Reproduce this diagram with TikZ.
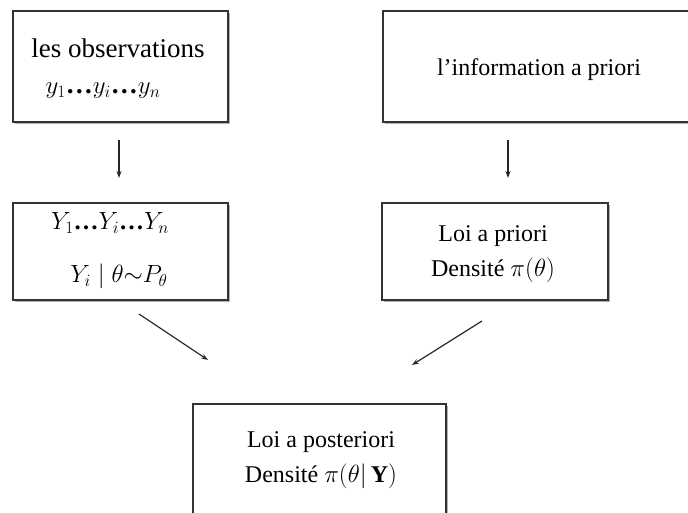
\documentclass[tikz,border=0pt]{standalone}
\usepackage{fontspec}
\setmainfont{Liberation Serif}
\usetikzlibrary{arrows.meta,shadows}
\tikzset{
  box/.style={draw=black!80, line width=1.4pt, fill=white, inner sep=0pt,
    drop shadow={shadow xshift=1.5pt, shadow yshift=-2pt, opacity=0.3, fill=black}},
  txt/.style={align=center, font=\fontsize{24}{35}\selectfont, inner sep=0pt},
  arr/.style={-{Stealth[length=7pt,width=5pt]}, line width=1.2pt, draw=black!85}
}
\newcommand{\bdots}{\textbf{…}}
\begin{document}
\begin{tikzpicture}[x=1pt,y=-1pt]
  \useasboundingbox (0,0) rectangle (688,513);
  \clip (0,0) rectangle (688,513);
  % boxes
  \node[box, minimum width=215pt, minimum height=111pt] (obs) at (120.5,66.5) {};
  \node[txt, font=\fontsize{27}{38}\selectfont] (obstxt) at (118,69) {les observations\\[-2pt]$y_1$\bdots$y_i$\bdots$y_n$\hspace*{30pt}};
  \node[box, minimum width=317pt, minimum height=111pt] (info) at (541.5,66.5) {};
  \node[txt] (infotxt) at (539,70) {l’information a priori};
  \node[box, minimum width=215pt, minimum height=97pt] (vrai) at (120.5,251.5) {};
  \node[txt, font=\fontsize{25}{53}\selectfont] (vraitxt) at (110,251) {$Y_1$\bdots$Y_i$\bdots$Y_n$\\\hspace*{18pt}$Y_i \mid \theta{\sim}P_\theta$};
  \node[box, minimum width=226pt, minimum height=97pt] (prior) at (495,251.5) {};
  \node[txt] (priortxt) at (493,254) {Loi a priori\\Densité $\pi(\theta)$};
  \node[box, minimum width=253pt, minimum height=140pt] (post) at (319.5,474) {};
  \node[txt] (posttxt) at (321,460) {Loi a posteriori\\Densité $\pi(\theta|\,\mathbf{Y})$};
  % arrow end points
  \coordinate (a1s) at (119,140);  \coordinate (a1e) at (119,178);
  \coordinate (a2s) at (508,140);  \coordinate (a2e) at (508,178);
  \coordinate (a3s) at (139,314);  \coordinate (a3e) at (208,360);
  \coordinate (a4s) at (482,321);  \coordinate (a4e) at (412,365);
  \draw[arr] (a1s) -- (a1e);
  \draw[arr] (a2s) -- (a2e);
  \draw[arr] (a3s) -- (a3e);
  \draw[arr] (a4s) -- (a4e);
\end{tikzpicture}
\end{document}
